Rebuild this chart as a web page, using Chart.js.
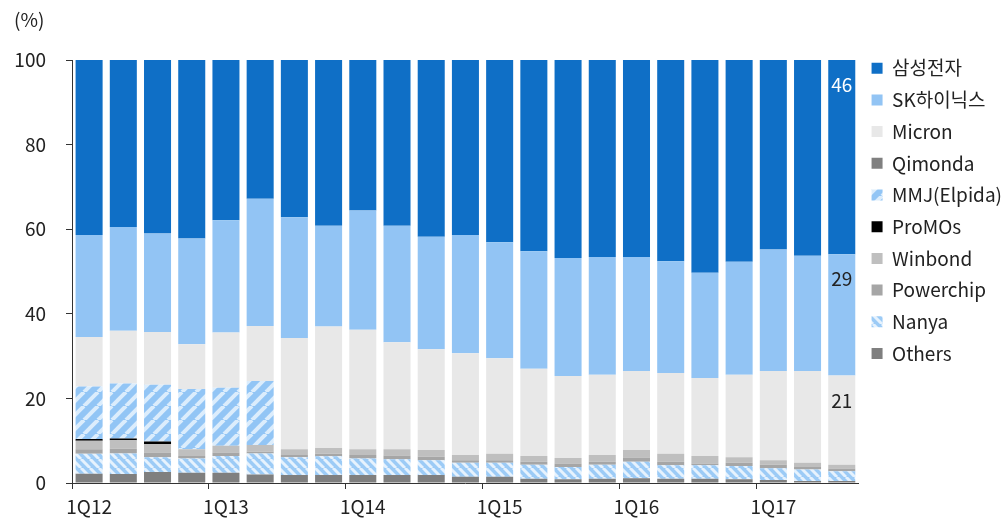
<!DOCTYPE html>
<html>
<head>
<meta charset="utf-8">
<script src="https://cdn.jsdelivr.net/npm/chart.js@4"></script>
<style>
    body { margin: 0; background: #fff; }
    #box { width: 1004px; height: 519px; }
</style>
</head>
<body>
<div id="box"><canvas id="myChart" width="1004" height="519"></canvas></div>
<script>
// quarters 1Q12 .. 3Q17
const labels =
[
    '1Q12','2Q12','3Q12','4Q12',
    '1Q13','2Q13','3Q13','4Q13',
    '1Q14','2Q14','3Q14','4Q14',
    '1Q15','2Q15','3Q15','4Q15',
    '1Q16','2Q16','3Q16','4Q16',
    '1Q17','2Q17','3Q17'
];

const samsung   = [41.4,39.6,41.0,42.2,37.9,32.8,37.2,39.2,35.6,39.2,41.8,41.4,43.1,45.2,46.8,46.6,46.6,47.6,50.3,47.7,44.8,46.3,45.9];
const skHynix   = [24.1,24.5,23.3,25.0,26.5,30.1,28.5,23.8,28.2,27.5,26.6,27.9,27.4,27.8,27.9,27.8,26.9,26.4,24.9,26.7,28.7,27.2,28.7];
const micron    = [11.7,12.5,12.5,10.6,13.1,13.0,26.3,28.7,28.2,25.3,23.8,24.1,22.6,20.6,19.4,19.0,18.7,19.1,18.4,19.5,21.1,21.7,21.1];
const qimonda   = [0,0,0,0,0,0,0,0,0,0,0,0,0,0,0,0,0,0,0,0,0,0,0];
const mmj       = [12.4,13.0,13.4,14.2,13.7,15.1,0,0,0,0,0,0,0,0,0,0,0,0,0,0,0,0,0];
const promos    = [0.4,0.4,0.6,0,0,0,0,0,0,0,0,0,0,0,0,0,0,0,0,0,0,0,0];
const winbond   = [2.0,2.0,2.0,1.6,1.6,1.6,1.4,1.4,1.4,1.5,1.6,1.2,1.5,1.4,1.3,1.6,1.8,1.9,1.8,1.3,1.1,1.0,0.9];
const powerchip = [1.1,1.1,1.1,0.6,0.8,0.4,0.5,0.6,0.8,0.9,0.8,0.6,0.6,0.7,0.8,0.7,1.0,0.8,0.4,0.8,0.8,0.6,0.6];
const nanya     = [4.7,4.9,3.5,3.4,4.0,5.0,4.2,4.4,3.9,3.7,3.5,3.3,3.3,3.3,2.9,3.3,3.9,3.2,3.2,3.1,2.8,2.7,2.3];
const others    = [2.2,2.1,2.6,2.4,2.4,2.0,1.9,1.9,1.9,1.9,1.9,1.5,1.5,1.0,0.9,1.0,1.1,1.0,1.0,0.9,0.7,0.5,0.5];

const FONT = "'Noto Sans CJK KR', 'Noto Sans', sans-serif";

// striped fills for MMJ (/) and Nanya (\)
function makeStripes(size, lineW, back, stripe, forward)
{
    const c = document.createElement('canvas');
    c.width = size;
    c.height = size;
    const g = c.getContext('2d');
    g.fillStyle = back;
    g.fillRect(0, 0, size, size);
    g.strokeStyle = stripe;
    g.lineWidth = lineW;
    for(let k = -1; k <= 1; k++)
    {
        g.beginPath();
        if(forward)
        {
            g.moveTo(k * size, size);
            g.lineTo(k * size + size, 0);
        }
        else
        {
            g.moveTo(k * size, 0);
            g.lineTo(k * size + size, size);
        }
        g.stroke();
    }
    return g.createPattern(c, 'repeat');
}

const mmjFill = makeStripes(14, 4, '#92c5f5', '#dcedfc', true);
const nanyaFill = makeStripes(9, 3, '#9ccbf6', '#e6f2fd', false);

const graphicData =
{
    labels: labels,
    datasets:
    [
        { label: 'Others',      data: others,    backgroundColor: '#7f7f7f' },
        { label: 'Nanya',       data: nanya,     backgroundColor: nanyaFill },
        { label: 'Powerchip',   data: powerchip, backgroundColor: '#a6a6a6' },
        { label: 'Winbond',     data: winbond,   backgroundColor: '#bfbfbf' },
        { label: 'ProMOs',      data: promos,    backgroundColor: '#000000' },
        { label: 'MMJ(Elpida)', data: mmj,       backgroundColor: mmjFill },
        { label: 'Qimonda',     data: qimonda,   backgroundColor: '#808080' },
        { label: 'Micron',      data: micron,    backgroundColor: '#e8e8e8' },
        { label: 'SK하이닉스',   data: skHynix,   backgroundColor: '#92c4f4' },
        { label: '삼성전자',     data: samsung,   backgroundColor: '#0f6fc6' },
    ]
};

// "(%)" unit and the value labels on the last bar
const extras =
{
    id: 'extras',
    afterLayout(chart)
    {
        // legend sits a little higher than the plot top
        chart.legend.top -= 14;
        chart.legend.bottom -= 14;
    },
    afterDatasetsDraw(chart)
    {
        const ctx = chart.ctx;
        ctx.save();
        ctx.font = '19px ' + FONT;
        ctx.fillStyle = '#222';
        ctx.textAlign = 'left';
        ctx.textBaseline = 'middle';
        ctx.fillText('(%)', 14, 20);

        const last = labels.length - 1;
        const marks = [[9, '#ffffff'], [8, '#222222'], [7, '#222222']];
        ctx.textAlign = 'center';
        for(let i = 0; i < marks.length; i++)
        {
            const ds = marks[i][0];
            const bar = chart.getDatasetMeta(ds).data[last];
            ctx.fillStyle = marks[i][1];
            ctx.fillText(Math.round(graphicData.datasets[ds].data[last]), bar.x, bar.y + 25);
        }
        ctx.restore();
    }
};

const config =
{
    type: 'bar',
    data: graphicData,
    plugins: [extras],
    options:
    {
        responsive: false,
        animation: false,
        layout: { padding: { left: 10, top: 60, right: -8, bottom: 0 } },
        datasets: { bar: { categoryPercentage: 0.79, barPercentage: 1.0, borderWidth: 0 } },
        plugins:
        {
            tooltip: { enabled: false },
            legend:
            {
                position: 'right',
                align: 'start',
                reverse: true,
                labels:
                {
                    boxWidth: 11,
                    boxHeight: 11,
                    padding: 12.7,
                    color: '#222',
                    font: { size: 19, family: FONT }
                }
            }
        },
        scales:
        {
            x:
            {
                stacked: true,
                afterFit: (scale) => { scale.height = 36; },
                border: { color: '#333', width: 1 },
                grid:
                {
                    offset: true,
                    drawOnChartArea: false,
                    tickLength: 6,
                    color: (c) => (c.index % 4 === 0 ? '#333' : 'rgba(0,0,0,0)')
                },
                ticks:
                {
                    autoSkip: false,
                    maxRotation: 0,
                    padding: 6,
                    color: '#222',
                    font: { size: 19, family: FONT },
                    callback: function(v, i) { return i % 4 === 0 ? labels[i] : ''; }
                }
            },
            y:
            {
                stacked: true,
                min: 0,
                max: 100,
                afterFit: (scale) => { scale.width = 62; },
                border: { color: '#333', width: 1 },
                grid: { drawOnChartArea: false, tickLength: 6, color: '#333' },
                ticks:
                {
                    stepSize: 20,
                    padding: 20,
                    color: '#222',
                    font: { size: 19, family: FONT }
                }
            }
        }
    }
};

new Chart(document.getElementById('myChart'), config);
</script>
</body>
</html>
